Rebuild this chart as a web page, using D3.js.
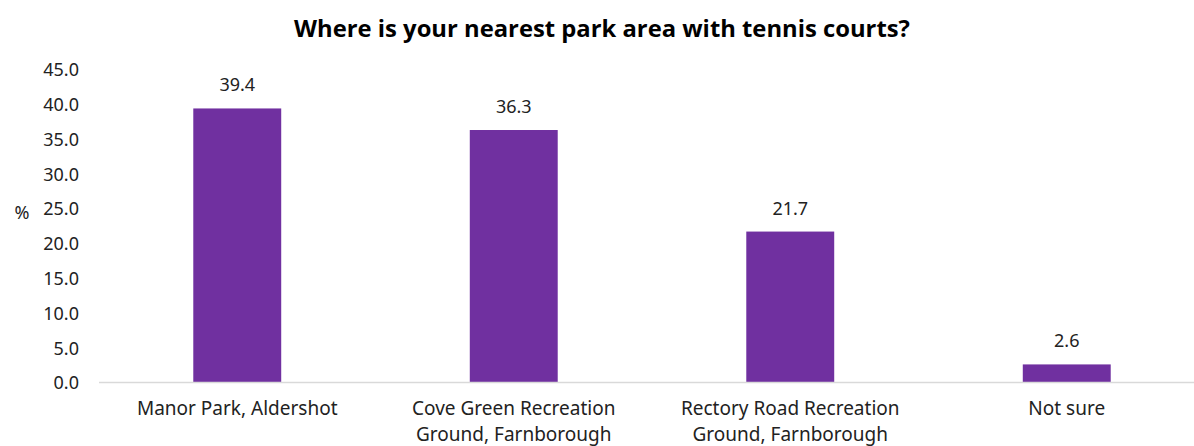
<!DOCTYPE html>
<html><head><meta charset="utf-8">
<script src="https://cdn.jsdelivr.net/npm/d3@7"></script>
<style>body{margin:0;background:#fff}svg{display:block}</style>
</head><body>
<svg id="c" width="1194" height="446"></svg>
<script>
const categories = [["Manor Park, Aldershot"], ["Cove Green Recreation", "Ground, Farnborough"], ["Rectory Road Recreation", "Ground, Farnborough"], ["Not sure"]];
const values = [39.4, 36.3, 21.7, 2.6];
const yTicks = [0, 5, 10, 15, 20, 25, 30, 35, 40, 45];
const title = "Where is your nearest park area with tennis courts?";

const svg = d3.select("#c");
const labelFont = "'Noto Sans', sans-serif";
const fs = "18px";
const x = d3.scaleBand().domain(d3.range(categories.length)).range([99, 1205]).paddingInner(0.682).paddingOuter(0.341);
const y = d3.scaleLinear().domain([0, 45]).range([382.5, 69.5]);

svg.append("text").attr("x", 602).attr("y", 37).attr("text-anchor", "middle")
  .style("font-family", "'Open Sans', sans-serif").style("font-weight", "bold").style("font-size", "23.8px").style("fill", "#000").text(title);

// y axis
const yAxis = d3.axisLeft(y).tickValues(yTicks).tickFormat(d3.format(".1f")).tickSize(0).tickPadding(0);
const gy = svg.append("g").attr("transform", "translate(79,0)").call(yAxis);
gy.select(".domain").remove();
gy.selectAll("text").style("font-family", labelFont).style("font-size", fs).style("fill", "#222").attr("dy", "0.35em");

svg.append("text").attr("x", 22).attr("y", 213).attr("dy", "0.35em").attr("text-anchor", "middle")
  .style("font-family", labelFont).style("font-size", fs).style("fill", "#222").text("%");

// bars
svg.selectAll("rect.bar").data(values).join("rect").attr("class", "bar")
  .attr("x", (d, i) => x(i)).attr("width", x.bandwidth())
  .attr("y", d => y(d)).attr("height", d => y(0) - y(d)).attr("fill", "#7030a0");

// baseline
svg.append("line").attr("x1", 99).attr("x2", 1194).attr("y1", y(0)).attr("y2", y(0)).attr("stroke", "#d9d9d9").attr("stroke-width", 1.5);

// value labels
svg.selectAll("text.val").data(values).join("text").attr("class", "val")
  .attr("x", (d, i) => x(i) + x.bandwidth() / 2).attr("y", d => y(d) - 17)
  .attr("text-anchor", "middle").style("font-family", labelFont).style("font-size", fs).style("fill", "#222")
  .text(d => d3.format(".1f")(d));

// category labels
const xl = svg.selectAll("text.cat").data(categories).join("text").attr("class", "cat")
  .attr("x", (d, i) => x(i) + x.bandwidth() / 2).attr("y", 415)
  .attr("text-anchor", "middle").style("font-family", labelFont).style("font-size", "19px").style("fill", "#222");
xl.selectAll("tspan").data(d => d).join("tspan")
  .attr("x", function() { return this.parentNode.getAttribute("x"); })
  .attr("dy", (d, i) => i === 0 ? 0 : 26).text(d => d);
</script>
</body></html>
